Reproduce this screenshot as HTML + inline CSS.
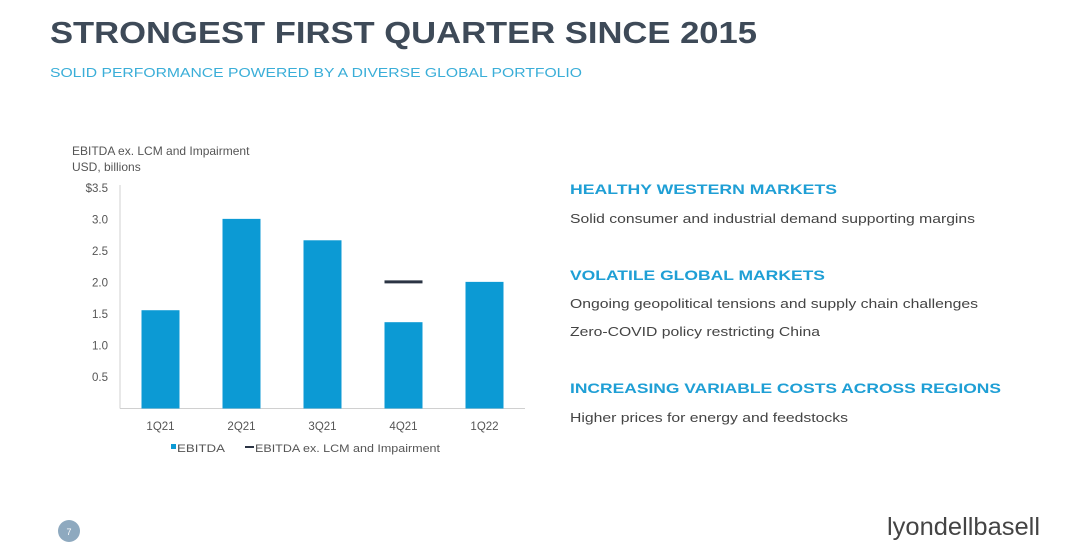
<!DOCTYPE html>
<html><head><meta charset="utf-8"><style>
html,body{margin:0;padding:0;background:#fff;}
svg{display:block;font-family:"Liberation Sans",Arial,sans-serif;}
</style></head><body>
<svg id="chart" width="1080" height="543" viewBox="0 0 1080 543">
<text x="50" y="43" font-size="31" font-weight="bold" fill="#3e4a58" textLength="707" lengthAdjust="spacingAndGlyphs">STRONGEST FIRST QUARTER SINCE 2015</text>
<text x="50" y="77" font-size="12.5" fill="#3aaed8" textLength="532" lengthAdjust="spacingAndGlyphs">SOLID PERFORMANCE POWERED BY A DIVERSE GLOBAL PORTFOLIO</text>

<text x="72" y="155" font-size="12" fill="#555">EBITDA ex. LCM and Impairment</text>
<text x="72" y="171" font-size="12" fill="#555">USD, billions</text>
<g id="axes"></g>
<g id="bars"></g>
<g id="legend">
<rect x="171" y="444" width="5" height="5" fill="#0c9ad4"/>
<text x="177" y="452" font-size="11" fill="#555" textLength="48" lengthAdjust="spacingAndGlyphs">EBITDA</text>
<rect x="245" y="446" width="9" height="2" fill="#2b3444"/>
<text x="255" y="452" font-size="11" fill="#555" textLength="185" lengthAdjust="spacingAndGlyphs">EBITDA ex. LCM and Impairment</text>
</g>

<g>
<text x="570" y="194" font-size="14" font-weight="bold" fill="#1f9fd5" textLength="267" lengthAdjust="spacingAndGlyphs">HEALTHY WESTERN MARKETS</text>
<text x="570" y="223" font-size="13" fill="#444" textLength="405" lengthAdjust="spacingAndGlyphs">Solid consumer and industrial demand supporting margins</text>
<text x="570" y="280" font-size="14" font-weight="bold" fill="#1f9fd5" textLength="255" lengthAdjust="spacingAndGlyphs">VOLATILE GLOBAL MARKETS</text>
<text x="570" y="308" font-size="13" fill="#444" textLength="408" lengthAdjust="spacingAndGlyphs">Ongoing geopolitical tensions and supply chain challenges</text>
<text x="570" y="336" font-size="13" fill="#444" textLength="250" lengthAdjust="spacingAndGlyphs">Zero-COVID policy restricting China</text>
<text x="570" y="393" font-size="14" font-weight="bold" fill="#1f9fd5" textLength="431" lengthAdjust="spacingAndGlyphs">INCREASING VARIABLE COSTS ACROSS REGIONS</text>
<text x="570" y="422" font-size="13" fill="#444" textLength="278" lengthAdjust="spacingAndGlyphs">Higher prices for energy and feedstocks</text>
</g>

<circle cx="69" cy="531" r="11" fill="#8ea9bf"/>
<text x="69" y="535" font-size="9" fill="#fff" text-anchor="middle">7</text>
<text x="887" y="535" font-size="25" fill="#444" textLength="153" lengthAdjust="spacingAndGlyphs">lyondellbasell</text>
</svg>
<script>
const categories = ["1Q21","2Q21","3Q21","4Q21","1Q22"];
const ebitda = [1.56, 3.01, 2.67, 1.37, 2.01];
const adjusted = [null, null, null, 2.01, null];
const yTicks = [0.5, 1.0, 1.5, 2.0, 2.5, 3.0, 3.5];
const yTickLabels = ["0.5","1.0","1.5","2.0","2.5","3.0","$3.5"];

const NS = "http://www.w3.org/2000/svg";
const x0 = 120, band = 81, barW = 38, y0 = 408.5, pxPerUnit = 63;
function xC(i){ return x0 + band*i + band/2; }
function y(v){ return y0 - v*pxPerUnit; }
function mk(tag, attrs, parent){ const e=document.createElementNS(NS,tag); for(const k in attrs) e.setAttribute(k,attrs[k]); parent.appendChild(e); return e; }

const axes = document.getElementById("axes");
const bars = document.getElementById("bars");
let a = mk("line",{x1:x0,y1:y(3.5)-3,x2:x0,y2:y0,stroke:"#d0d0d0","stroke-width":1},axes);


a = mk("line",{x1:x0,y1:y0,x2:x0+band*categories.length,y2:y0,stroke:"#d0d0d0","stroke-width":1},axes);


yTicks.forEach((t,i)=>{
  const e = mk("text",{x:108,y:y(t)+4,"font-size":11.5,fill:"#555","text-anchor":"end"},axes);
  e.textContent = yTickLabels[i];
  
  
});
categories.forEach((c,i)=>{
  const e = mk("text",{x:xC(i),y:430,"font-size":11.5,fill:"#555","text-anchor":"middle"},axes);
  e.textContent = c;
  
  
  const b = mk("rect",{x:xC(i)-barW/2,y:y(ebitda[i]),width:barW,height:y0-y(ebitda[i]),fill:"#0c9ad4"},bars);
  
  
  if(adjusted[i]!=null){
    const l = mk("line",{x1:xC(i)-barW/2,x2:xC(i)+barW/2,y1:y(adjusted[i]),y2:y(adjusted[i]),stroke:"#2b3444","stroke-width":3},bars);
    
    
  }
});
</script>
</body></html>
